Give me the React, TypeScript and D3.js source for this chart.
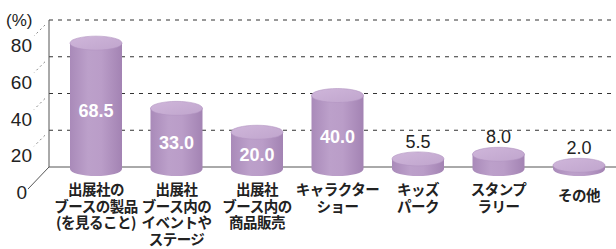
import { scaleLinear, scalePoint } from "d3";

const categories = [
  ["出展社の", "ブースの製品", "(を見ること)"],
  ["出展社", "ブース内の", "イベントや", "ステージ"],
  ["出展社", "ブース内の", "商品販売"],
  ["キャラクター", "ショー"],
  ["キッズ", "パーク"],
  ["スタンプ", "ラリー"],
  ["その他"],
];
const values = [68.5, 33.0, 20.0, 40.0, 5.5, 8.0, 2.0];
const yTicks = [0, 20, 40, 60, 80];

const W = 616;
const H = 249;
const wallX = 49;
const rx = 26;
const ry = 7;
const numFont = "'Liberation Sans', Arial, sans-serif";
const jpFont = "'Noto Sans CJK JP', 'Noto Sans', sans-serif";

export default function App() {
  const y = scaleLinear().domain([0, 80]).range([167, 20]);
  const x = scalePoint<number>()
    .domain(values.map((_, i) => i))
    .range([96, 579]);

  return (
    <svg
      width={W}
      height={H}
      style={{ position: "absolute", left: 0, top: 0, background: "#fff" }}
    >
      <defs>
        <linearGradient id="body" x1="0" x2="1" y1="0" y2="0">
          <stop offset="0" stopColor="#a98ab9" />
          <stop offset="0.35" stopColor="#bca0ca" />
          <stop offset="0.6" stopColor="#ba9dc8" />
          <stop offset="1" stopColor="#a383b3" />
        </linearGradient>
        <linearGradient id="top" x1="0" x2="1" y1="0" y2="1">
          <stop offset="0" stopColor="#cfb6da" />
          <stop offset="1" stopColor="#c0a5cd" />
        </linearGradient>
      </defs>

      {/* back wall grid */}
      {yTicks.slice(1).map((t) => (
        <line
          key={"g" + t}
          x1={wallX}
          x2={W}
          y1={y(t)}
          y2={y(t)}
          stroke="#333"
          strokeWidth={1}
          strokeDasharray="4,5"
        />
      ))}
      <line x1={wallX} x2={wallX} y1={y(80)} y2={y(0)} stroke="#555" />
      <line x1={wallX} x2={W} y1={y(0)} y2={y(0)} stroke="#555" />
      <line x1={wallX} x2={28} y1={y(0)} y2={y(0) + 22} stroke="#555" />
      {yTicks.slice(1).map((t) => (
        <line
          key={"d" + t}
          x1={45}
          x2={34}
          y1={y(t) + 5}
          y2={y(t) + 16}
          stroke="#888"
          strokeDasharray="2,3"
        />
      ))}

      {/* y labels */}
      {yTicks.map((t) => (
        <text
          key={"t" + t}
          x={t === 0 ? 27 : 32}
          y={y(t) + 27}
          textAnchor="end"
          dominantBaseline="middle"
          fontFamily={numFont}
          fontSize={19}
          fill="#222"
        >
          {t}
        </text>
      ))}
      <text x={6} y={22} fontFamily={numFont} fontSize={17} fill="#222" dominantBaseline="middle">
        (%)
      </text>

      {/* cylinders */}
      {values.map((v, i) => {
        const cx = x(i)!;
        const base = y(0) + 2;
        const top = y(v) + 2;
        const body = `M${cx - rx},${top} L${cx - rx},${base} A${rx},${ry} 0 0 0 ${cx + rx},${base} L${cx + rx},${top} Z`;
        const inside = v >= 15;
        return (
          <g key={"c" + i}>
            <path d={body} fill="url(#body)" />
            <ellipse cx={cx} cy={top} rx={rx} ry={ry} fill="url(#top)" stroke="#b294c1" strokeWidth={0.6} />
            <text
              x={cx}
              y={inside ? (top + base) / 2 + 6 : top - 16}
              textAnchor="middle"
              dominantBaseline="middle"
              fontFamily={numFont}
              fontSize={18}
              fontWeight={inside ? 600 : 400}
              fill={inside ? "#fff" : "#222"}
            >
              {v.toFixed(1)}
            </text>
          </g>
        );
      })}

      {/* category labels */}
      {categories.map((lines, i) => (
        <text
          key={"l" + i}
          textAnchor="middle"
          fontFamily={jpFont}
          fontWeight={700}
          fontSize={14.5}
          letterSpacing={-0.5}
          fill="#222"
        >
          {lines.map((s, j) => (
            <tspan
              key={j}
              x={x(i)!}
              y={(lines.length === 1 ? 197 : 191.5) + j * 16.5}
              dominantBaseline="middle"
            >
              {s}
            </tspan>
          ))}
        </text>
      ))}
    </svg>
  );
}
